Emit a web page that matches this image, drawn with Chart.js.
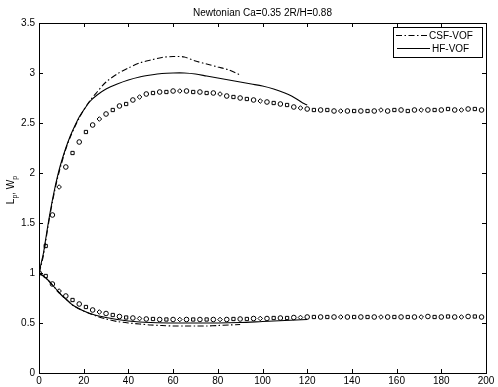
<!DOCTYPE html>
<html>
<head>
<meta charset="utf-8">
<script src="https://cdn.jsdelivr.net/npm/chart.js@4/dist/chart.umd.min.js"></script>
<style>
html,body{margin:0;padding:0;background:#fff;}
canvas{display:block;}
</style>
</head>
<body>
<canvas id="c" width="498" height="387"></canvas>
<script>
// ---------- data ----------
const titleText = "Newtonian Ca=0.35 2R/H=0.88";
const xTicks = [0,20,40,60,80,100,120,140,160,180,200];
const yTicks = [0,0.5,1,1.5,2,2.5,3,3.5];

// symbol series (time)
const symT = [0,3,6,9,12,15,18,21,24,27,30,33,36,39,42,45,48,51,54,57,60,63,66,69,72,75,78,81,84,87,90,93,96,99,102,105,108,111,114,117,120,123,126,129,132,135,138,141,144,147,150,153,156,159,162,165,168,171,174,177,180,183,186,189,192,195,198];
const symUpper = [1.00,1.27,1.58,1.86,2.06,2.20,2.31,2.41,2.48,2.54,2.59,2.63,2.67,2.69,2.73,2.76,2.79,2.80,2.81,2.81,2.82,2.82,2.82,2.81,2.81,2.80,2.80,2.79,2.77,2.76,2.75,2.74,2.73,2.72,2.71,2.70,2.69,2.68,2.66,2.65,2.64,2.63,2.63,2.63,2.62,2.62,2.62,2.62,2.62,2.62,2.62,2.63,2.62,2.63,2.63,2.62,2.63,2.63,2.63,2.63,2.63,2.64,2.63,2.63,2.64,2.64,2.63];
const symLower = [1.00,0.97,0.89,0.82,0.77,0.73,0.69,0.66,0.63,0.61,0.595,0.58,0.565,0.555,0.55,0.545,0.54,0.54,0.535,0.535,0.535,0.535,0.535,0.535,0.535,0.535,0.535,0.535,0.535,0.54,0.54,0.54,0.545,0.545,0.545,0.55,0.55,0.55,0.555,0.555,0.56,0.56,0.56,0.56,0.56,0.56,0.56,0.56,0.56,0.56,0.56,0.56,0.56,0.56,0.56,0.56,0.56,0.56,0.565,0.56,0.56,0.565,0.56,0.56,0.565,0.565,0.56];

// HF-VOF
const hfUpT = [0,1,2,3,4,5,6,7,8,9,10,12,14,16,18,20,23,26,30,35,40,45,50,55,60,65,70,75,80,85,90,95,100,105,110,113,116,118,120];
const hfUp  = [1.00,1.10,1.20,1.34,1.48,1.61,1.73,1.84,1.94,2.03,2.11,2.25,2.37,2.47,2.56,2.63,2.72,2.78,2.84,2.89,2.93,2.96,2.98,2.995,3.00,3.00,2.99,2.97,2.95,2.93,2.91,2.89,2.87,2.84,2.80,2.77,2.73,2.70,2.68];
const hfLoT = [0,2,4,6,8,10,12,15,20,25,30,35,40,45,50,60,70,80,90,100,110,120];
const hfLo  = [1.00,0.97,0.93,0.88,0.83,0.78,0.74,0.68,0.62,0.58,0.555,0.535,0.52,0.51,0.505,0.50,0.50,0.50,0.505,0.515,0.525,0.535];

// CSF-VOF
const csfUpT = [0,1,2,3,4,5,6,7,8,9,10,12,14,16,18,20,23,26,30,35,40,45,50,55,60,65,70,75,80,85,90];
const csfUp  = [1.00,1.08,1.18,1.32,1.46,1.59,1.71,1.82,1.92,2.01,2.09,2.24,2.36,2.46,2.55,2.63,2.73,2.81,2.91,2.99,3.05,3.10,3.13,3.155,3.165,3.16,3.12,3.09,3.06,3.03,2.98];
const csfLoT = [0,2,4,6,8,10,12,15,20,25,30,35,40,45,50,55,60,65,70,75,80,85,90];
const csfLo  = [1.00,0.97,0.93,0.88,0.83,0.78,0.74,0.68,0.62,0.575,0.54,0.515,0.50,0.49,0.48,0.475,0.47,0.47,0.47,0.47,0.475,0.48,0.485];

const legendLabels = ["CSF-VOF","HF-VOF"];
const yLabelParts = [["L",0],["p",1],[", W",0],["p",1]];

// ---------- helpers ----------
const pts = (xs, ys) => xs.map((x,i)=>({x:x, y:ys[i]}));
const FONT = "'Liberation Sans', Arial, sans-serif";
const DASHDOT = [6,2.5,1.5,2.5];
const markerStyles = ['circle','rect','circle','rectRot','circle','rect'];

const lineDs = (data, dash) => ({
  data, showLine:true, borderColor:'#000', borderWidth:1.1, borderDash:dash,
  pointRadius:0, pointHoverRadius:0, fill:false, tension:0.3
});
const symDs = (data) => ({
  data, showLine:false, borderColor:'#000', backgroundColor:'#fff', borderWidth:1,
  pointRadius:2.3, pointStyle: (ctx)=> markerStyles[ctx.dataIndex % markerStyles.length]
});

const frame = {
  id:'frame',
  afterDatasetsDraw(chart){
    const {ctx, chartArea:a, scales} = chart;
    ctx.save();
    ctx.strokeStyle='#000'; ctx.lineWidth=1; ctx.setLineDash([]);
    ctx.strokeRect(Math.round(a.left)+0.5, Math.round(a.top)+0.5, Math.round(a.right-a.left), Math.round(a.bottom-a.top));
    const L=4;
    ctx.beginPath();
    xTicks.forEach(v=>{
      const x=Math.round(scales.x.getPixelForValue(v))+0.5;
      ctx.moveTo(x,a.bottom); ctx.lineTo(x,a.bottom-L);
      ctx.moveTo(x,a.top); ctx.lineTo(x,a.top+L);
    });
    yTicks.forEach(v=>{
      const y=Math.round(scales.y.getPixelForValue(v))+0.5;
      ctx.moveTo(a.left,y); ctx.lineTo(a.left+L,y);
      ctx.moveTo(a.right,y); ctx.lineTo(a.right-L,y);
    });
    ctx.stroke();

    // title
    ctx.fillStyle='#000';
    ctx.font='10px '+FONT;
    ctx.textAlign='center'; ctx.textBaseline='middle';
    ctx.fillText(titleText,(a.left+a.right)/2,13);

    // y label (rotated, with subscripts)
    ctx.save();
    ctx.translate(13.5,190);
    ctx.rotate(-Math.PI/2);
    const fMain='10px '+FONT, fSub='7px '+FONT;
    let w=0;
    yLabelParts.forEach(([t,s])=>{ctx.font=s?fSub:fMain; w+=ctx.measureText(t).width;});
    let x=-w/2;
    ctx.textAlign='left'; ctx.textBaseline='alphabetic';
    yLabelParts.forEach(([t,s])=>{
      ctx.font=s?fSub:fMain;
      ctx.fillText(t,x,s?3:0);
      x+=ctx.measureText(t).width;
    });
    ctx.restore();

    // legend
    const bx=393, by=27, bw=89, bh=30;
    ctx.fillStyle='#fff';
    ctx.fillRect(bx,by,bw,bh);
    ctx.strokeStyle='#000';
    ctx.strokeRect(bx+0.5,by+0.5,bw,bh);
    ctx.lineWidth=1.1;
    ctx.setLineDash(DASHDOT);
    ctx.beginPath(); ctx.moveTo(396,35.5); ctx.lineTo(428,35.5); ctx.stroke();
    ctx.setLineDash([]);
    ctx.beginPath(); ctx.moveTo(397,48.5); ctx.lineTo(430,48.5); ctx.stroke();
    ctx.fillStyle='#000';
    ctx.font='10px '+FONT; ctx.textAlign='left'; ctx.textBaseline='middle';
    ctx.fillText(legendLabels[0],429,36);
    ctx.fillText(legendLabels[1],432,49);
    ctx.restore();
  }
};

new Chart(document.getElementById('c'), {
  type:'scatter',
  data:{ datasets:[
    lineDs(pts(csfUpT,csfUp), DASHDOT),
    lineDs(pts(csfLoT,csfLo), DASHDOT),
    lineDs(pts(hfUpT,hfUp), []),
    lineDs(pts(hfLoT,hfLo), []),
    symDs(pts(symT,symUpper)),
    symDs(pts(symT,symLower))
  ]},
  options:{
    responsive:false, animation:false, devicePixelRatio:1,
    layout:{padding:{left:0,top:23,right:12,bottom:0}},
    plugins:{legend:{display:false}, tooltip:{enabled:false}, title:{display:false}},
    scales:{
      x:{type:'linear', min:0, max:200,
         afterBuildTicks:(s)=>{s.ticks=xTicks.map(v=>({value:v}));},
         afterFit:(s)=>{s.height=14;},
         grid:{display:false, drawTicks:false}, border:{display:false},
         ticks:{color:'#000', font:{family:FONT,size:10}, padding:2, maxRotation:0, autoSkip:false}},
      y:{type:'linear', min:0, max:3.5,
         afterBuildTicks:(s)=>{s.ticks=yTicks.map(v=>({value:v}));},
         afterFit:(s)=>{s.width=39;},
         grid:{display:false, drawTicks:false}, border:{display:false},
         ticks:{color:'#000', font:{family:FONT,size:10}, padding:4, autoSkip:false,
                callback:(v)=>String(v)}}
    }
  },
  plugins:[frame]
});
</script>
</body>
</html>
